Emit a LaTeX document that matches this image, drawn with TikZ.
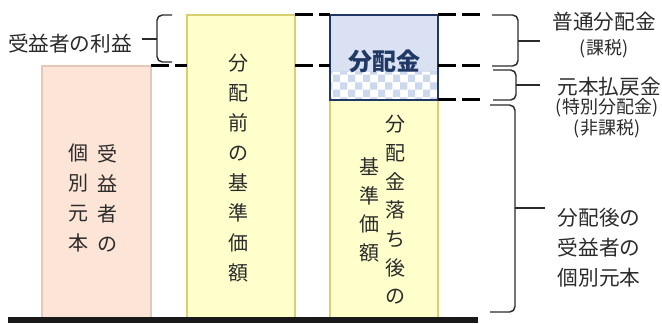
\documentclass[tikz,border=0pt]{standalone}
\usepackage{fontspec}
\usepackage{xcolor}
\usepackage{tikz}
\usetikzlibrary{calc,patterns}
\newfontfamily\jp{Noto Sans CJK JP}
\definecolor{ink}{HTML}{2B2B2B}
\definecolor{navy}{HTML}{1F3864}
\definecolor{peach}{HTML}{FCE4D6}
\definecolor{peachline}{HTML}{E3C8BA}
\definecolor{cream}{HTML}{FFFFCC}
\definecolor{creamline}{HTML}{D8D070}
\definecolor{lav}{HTML}{DAE1F2}
\definecolor{check}{HTML}{CCD8EE}
\tikzset{
  own/.style={fill=peach, draw=peachline, line width=0.8pt},
  old/.style={fill=cream, draw=creamline, line width=0.8pt},
  pay/.style={draw=navy, line width=1.5pt},
  lvl/.style={draw=black, line width=2.25pt, dash pattern=on 13.5pt off 4.5pt},
  ground/.style={draw=black!90, line width=4.5pt},
  brc/.style={draw=ink, line width=1.1pt, rounded corners=4pt},
  lab/.style={text=ink, inner sep=0pt, font=\jp\fontsize{15.5}{18}\selectfont},
  labs/.style={text=ink, inner sep=0pt, font=\jp\fontsize{13.5}{15}\selectfont},
  col/.style={text=ink, align=center, inner sep=0pt, font=\jp\fontsize{15}{22.5}\selectfont},
  cols/.style={col, font=\jp\fontsize{15}{21.5}\selectfont},
}

\begin{document}
\begin{tikzpicture}[x=0.75pt, y=0.75pt]
  \useasboundingbox (0,0) rectangle (662,324);

  \draw[own] (42,6) rectangle (151,258);
  \draw[old] (187,6) rectangle (295,309);
  \draw[old] (330,6) rectangle (438,224);
  \fill[lav] (330,224) rectangle (438,309);
  \fill[white] (330,224) rectangle (438,252);
  \fill[pattern=checkerboard, pattern color=check] (330,224) rectangle (438,252);
  \draw[pay] (330,224) rectangle (438,309);

  \draw[lvl] (151,258) -- (187,258);
  \draw[lvl] (295,309) -- (330,309);
  \draw[lvl] (295,258) -- (330,258);
  \draw[lvl] (438,309) -- (480,309);
  \draw[lvl] (438,258) -- (480,258);
  \draw[lvl] (438,224) -- (480,224);
  \draw[ground] (8,4) -- (478,4);

  \draw[brc] (172,309) -- (157,309) -- (157,262) -- (172,262);
  \draw[brc] (157,285) -- (142,285);
  \draw[brc] (492,309) -- (518,309) -- (518,258) -- (492,258);
  \draw[brc] (518,283) -- (540,283);
  \draw[brc] (493,254) -- (516,254) -- (516,224) -- (493,224);
  \draw[brc] (516,239) -- (540,239);
  \draw[brc] (490,219) -- (515,219) -- (515,12) -- (490,12);
  \draw[brc] (515,116) -- (545,116);

  \node[lab] (profit) at (70,280) {受益者の利益};
  \node[col] (own1) at (108,126) {受\\益\\者\\の};
  \node[col] (own2) at (78,126) {個\\別\\元\\本};
  \node[col] (pre) at (238,156) {分\\配\\前\\の\\基\\準\\価\\額};
  \node[cols] (post1) at (395,114) {分\\配\\金\\落\\ち\\後\\の};
  \node[cols] (post2) at (369,114) {基\\準\\価\\額};
  \node[text=navy, font=\jp\bfseries\fontsize{18}{20}\selectfont] (dist) at (384,263) {分配金};

  \node[lab] (ord) at (604,302) {普通分配金};
  \node[labs] (ordtax) at (604,275) {(課税)};
  \node[lab] (ret) at (609,237) {元本払戻金};
  \node[labs] (spec) at (607,216) {(特別分配金)};
  \node[labs] (free) at (607,195) {(非課税)};
  \node[lab, align=center, font=\jp\fontsize{15.5}{22.5}\selectfont] (after) at (599,76) {分配後の\\受益者の\\個別元本};
\end{tikzpicture}
\end{document}
